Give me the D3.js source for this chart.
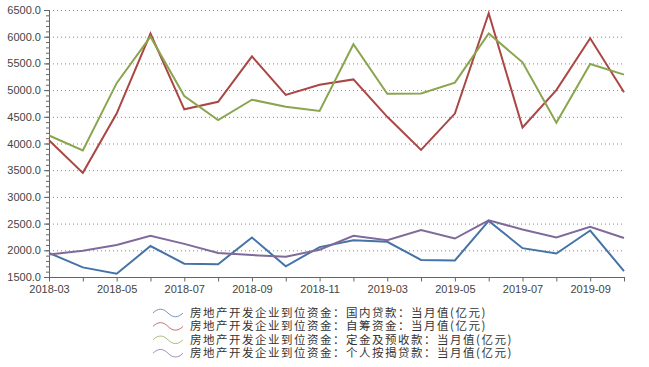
<!DOCTYPE html>
<html>
<head>
<meta charset="utf-8">
<script src="https://cdn.jsdelivr.net/npm/d3@7"></script>
<style>
  body { margin: 0; background: #fff; }
  svg text { font-family: "Liberation Sans", Arial, sans-serif; }
</style>
</head>
<body>
<div id="chart"></div>
<script>
// months on the axis (2019-01/02 are not reported)
var months = ["2018-03", "2018-04", "2018-05", "2018-06", "2018-07", "2018-08", "2018-09",
  "2018-10", "2018-11", "2018-12", "2019-03", "2019-04", "2019-05", "2019-06",
  "2019-07", "2019-08", "2019-09", "2019-10"];

var seriesNames = [
  "房地产开发企业到位资金：国内贷款：当月值(亿元)",
  "房地产开发企业到位资金：自筹资金：当月值(亿元)",
  "房地产开发企业到位资金：定金及预收款：当月值(亿元)",
  "房地产开发企业到位资金：个人按揭贷款：当月值(亿元)"
];

var domesticLoans = [1950, 1680, 1560, 2080, 1750, 1740, 2240, 1700, 2060, 2190,
  2160, 1820, 1810, 2550, 2040, 1940, 2370, 1610];
var selfRaised = [4060, 3450, 4560, 6060, 4640, 4780, 5630, 4910, 5100, 5200,
  4500, 3880, 4560, 6440, 4300, 5000, 5970, 4960];
var deposits = [4150, 3870, 5130, 6000, 4890, 4440, 4820, 4690, 4610, 5860,
  4930, 4935, 5140, 6060, 5520, 4390, 5490, 5290];
var mortgages = [1920, 1990, 2100, 2270, 2120, 1950, 1910, 1880, 2010, 2270,
  2190, 2380, 2220, 2560, 2390, 2240, 2440, 2230];

var yTicks = [1500, 2000, 2500, 3000, 3500, 4000, 4500, 5000, 5500, 6000, 6500];

var colors = ["#4572A7", "#AA4643", "#89A54E", "#80699B"];
var allSeries = [domesticLoans, selfRaised, deposits, mortgages];

var svgWidth = 649;
var svgHeight = 367;
var margin = { top: 10, right: 25, bottom: 90, left: 49 };
var width = svgWidth - margin.left - margin.right;
var height = svgHeight - margin.top - margin.bottom;

var svg = d3.select("#chart").append("svg")
  .attr("width", svgWidth)
  .attr("height", svgHeight);

var chartGroup = svg.append("g")
  .attr("transform", `translate(${margin.left}, ${margin.top})`);

var xScale = d3.scalePoint()
  .domain(months)
  .range([0, width]);

var yScale = d3.scaleLinear()
  .domain([1500, 6500])
  .range([height, 0]);

// dotted grid
chartGroup.append("g")
  .selectAll("line")
  .data(yTicks.slice(1))
  .enter()
  .append("line")
  .attr("x1", 0)
  .attr("x2", width)
  .attr("y1", d => yScale(d) + 0.5)
  .attr("y2", d => yScale(d) + 0.5)
  .attr("stroke", "#888")
  .attr("stroke-width", 1)
  .attr("stroke-dasharray", "1,3");

// minor y ticks
chartGroup.append("g")
  .attr("class", "y minor")
  .call(d3.axisLeft(yScale).tickValues(d3.range(1500, 6501, 100)).tickSize(3).tickFormat(""))
  .call(g => g.select(".domain").remove())
  .selectAll("line").attr("stroke", "#666");

// y axis
var leftAxis = d3.axisLeft(yScale)
  .tickValues(yTicks)
  .tickSize(5)
  .tickPadding(3)
  .tickFormat(d3.format(".1f"));

chartGroup.append("g")
  .attr("class", "y axis")
  .call(leftAxis)
  .call(g => g.select(".domain").attr("stroke", "#666").attr("d", `M0.5,${height}V0`))
  .call(g => g.selectAll("line").attr("stroke", "#666"))
  .call(g => g.selectAll("text").attr("fill", "#444").attr("font-size", "11px"));

// x axis
var bottomAxis = d3.axisBottom(xScale)
  .tickSize(4)
  .tickPadding(4)
  .tickFormat((d, i) => i % 2 === 0 ? d : "");

chartGroup.append("g")
  .attr("class", "x axis")
  .attr("transform", `translate(0, ${height + 0.5})`)
  .call(bottomAxis)
  .call(g => g.select(".domain").attr("stroke", "#666").attr("d", `M0,0H${width + 1}`))
  .call(g => g.selectAll("line").attr("stroke", "#666"))
  .call(g => g.selectAll("text").attr("fill", "#444").attr("font-size", "11px"));

// lines
var line = d3.line()
  .x((d, i) => xScale(months[i]))
  .y(d => yScale(d));

chartGroup.selectAll(".series")
  .data(allSeries)
  .enter()
  .append("path")
  .attr("class", "series")
  .attr("d", d => line(d))
  .attr("fill", "none")
  .attr("stroke", (d, i) => colors[i])
  .attr("stroke-width", 2)
  .attr("stroke-linejoin", "miter");

// legend
var legend = svg.append("g")
  .attr("transform", "translate(153, 313)");

var legendRows = legend.selectAll("g")
  .data(seriesNames)
  .enter()
  .append("g")
  .attr("transform", (d, i) => `translate(0, ${i * 13.4})`);

legendRows.append("path")
  .attr("d", "M0,0 C5,-5 10,-5 15,0 C20,5 25,5 30,0")
  .attr("fill", "none")
  .attr("stroke", (d, i) => colors[i])
  .attr("stroke-opacity", 0.75)
  .attr("stroke-width", 1);

legendRows.append("text")
  .attr("x", 37)
  .attr("y", 4)
  .attr("font-size", "11.5px")
  .attr("letter-spacing", "1.5px")
  .attr("fill", "#333")
  .style("font-family", "'Noto Sans CJK SC', sans-serif")
  .text(d => d);
</script>
</body>
</html>
